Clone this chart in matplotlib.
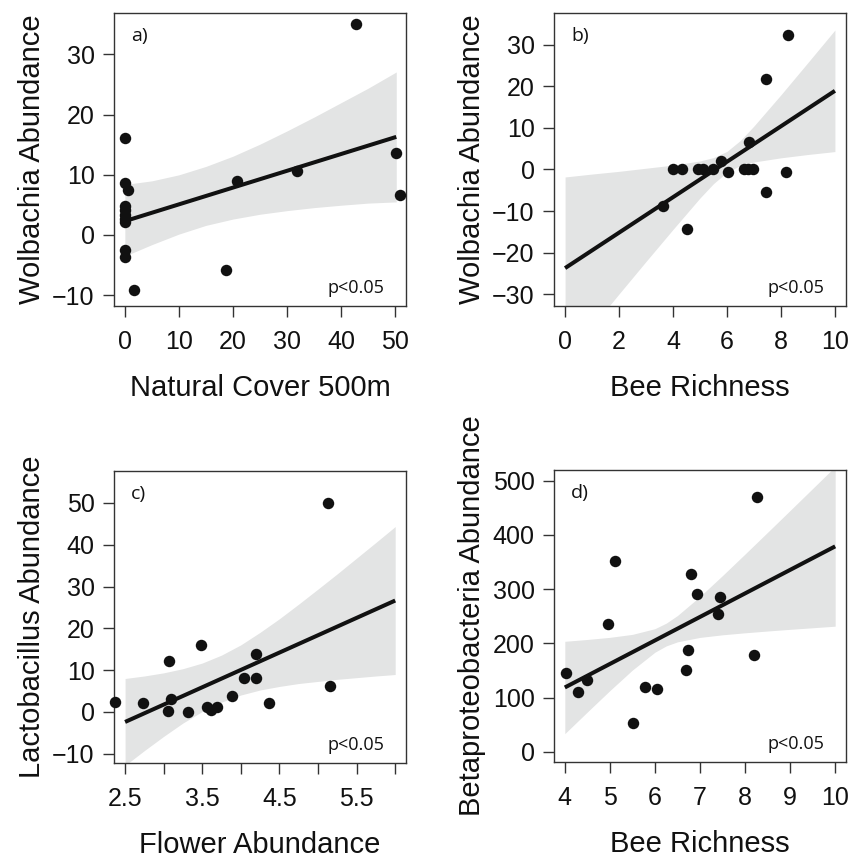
import matplotlib
matplotlib.use('Agg')
import matplotlib.pyplot as plt
import numpy as np

plt.rcParams['font.family'] = ['Liberation Sans', 'DejaVu Sans']

# a) Wolbachia abundance vs natural cover
cover_a = [42.8, 0.0, 0.0, 0.5, 0.0, 0.1, 0.0, 0.1, 0.0, 0.0, 0.0, 1.7, 18.8, 20.7, 31.8, 50.2, 50.9]
wolb_a = [35.0, 16.1, 8.6, 7.5, 4.9, 4.1, 3.3, 2.6, 2.2, -2.5, -3.7, -9.1, -5.9, 9.0, 10.6, 13.7, 6.6]
band_a_x = [0, 5, 10, 15, 20, 25, 30, 35, 40, 45, 50.2]
band_a_hi = [8.4, 9.0, 10.0, 11.4, 13.1, 15.1, 17.3, 19.6, 22.0, 24.4, 27.1]
band_a_lo = [-3.5, -1.6, 0.15, 1.6, 2.65, 3.45, 4.05, 4.55, 4.95, 5.3, 5.5]
fit_a = (2.3, 0.279)

# b) Wolbachia abundance vs bee richness
rich_b = [8.27, 7.43, 6.80, 5.78, 4.01, 4.32, 4.94, 5.12, 5.49, 6.05, 6.63, 6.79, 6.95, 8.17, 7.44, 3.62, 4.51]
wolb_b = [32.2, 21.8, 6.6, 2.0, 0.0, 0.0, 0.0, 0.0, 0.0, -0.6, 0.0, 0.0, 0.0, -0.6, -5.5, -8.8, -14.4]
band_b_x = [0, 1, 2, 3, 4, 5, 5.5, 6, 6.5, 7, 8, 9, 10]
band_b_hi = [-1.8, -1.1, -0.45, 0.3, 1.05, 2.05, 2.85, 4.35, 7.0, 10.45, 17.95, 25.7, 33.5]
band_b_lo = [-45.6, -37.8, -29.9, -22.1, -14.4, -6.85, -3.4, -0.65, 0.95, 1.8, 2.8, 3.6, 4.3]
fit_b = (-23.7, 4.26)

# c) Lactobacillus abundance vs flower abundance
flower_c = [5.13, 5.15, 2.37, 2.73, 3.07, 3.10, 3.05, 3.31, 3.48, 3.56, 3.61, 3.69, 3.88, 4.04, 4.20, 4.19, 4.37]
lacto_c = [50.1, 6.1, 2.4, 2.2, 12.1, 3.2, 0.2, 0.0, 16.1, 1.2, 0.4, 1.2, 3.8, 8.2, 8.2, 13.8, 2.2]
band_c_x = [2.5, 2.75, 3.0, 3.25, 3.5, 3.75, 4.0, 4.25, 4.5, 4.75, 5.0, 5.25, 5.5, 5.75, 6.0]
band_c_hi = [8.0, 8.6, 9.35, 10.35, 11.7, 13.6, 16.05, 19.05, 22.3, 25.8, 29.4, 33.05, 36.8, 40.55, 44.35]
band_c_lo = [-12.8, -9.25, -5.85, -2.65, 0.1, 2.35, 4.05, 5.25, 6.1, 6.8, 7.3, 7.8, 8.2, 8.6, 8.95]
fit_c = (-23.15, 8.3)

# d) Betaproteobacteria abundance vs bee richness
rich_d = [8.27, 5.12, 6.79, 6.93, 7.44, 7.41, 4.95, 6.73, 8.19, 6.68, 4.03, 4.50, 4.29, 5.78, 6.04, 5.52]
beta_d = [470.9, 351.8, 328.5, 291.7, 285.5, 254.1, 235.7, 188.6, 178.6, 150.5, 144.4, 132.6, 109.4, 119.7, 116.7, 53.4]
band_d_x = [4.0, 4.5, 5.0, 5.5, 6.0, 6.25, 6.5, 7.0, 7.5, 8.0, 8.5, 9.0, 9.5, 10.0]
band_d_hi = [203.8, 207.2, 211.1, 216.6, 227.1, 237.3, 251.4, 286.6, 325.2, 364.9, 405.0, 445.3, 485.8, 526.3]
band_d_lo = [33.4, 73.4, 112.9, 150.8, 183.7, 195.3, 202.8, 211.0, 215.8, 219.5, 222.8, 225.9, 228.8, 231.7]
fit_d = (-55.0, 43.4)


def panel(ax, x, y, bx, blo, bhi, fit, tag, xlab, ylab, xlim, ylim, xt, yt, xtl=None):
    ax.fill_between(bx, blo, bhi, color='#e3e4e4', lw=0, zorder=1)
    bx = np.array(bx)
    ax.plot(bx[[0, -1]], fit[0] + fit[1] * bx[[0, -1]], color='#111111', lw=2.9,
            solid_capstyle='butt', zorder=2)
    ax.scatter(x, y, s=68, color='#111111', lw=0, zorder=3, clip_on=False)
    ax.set_xlim(xlim)
    ax.set_ylim(ylim)
    ax.set_xticks(xt)
    if xtl is not None:
        ax.set_xticklabels(xtl)
    ax.set_yticks(yt)
    ax.tick_params(direction='out', length=8, width=1, color='#333333',
                   labelsize=18, labelcolor='#111111')
    ax.tick_params(axis='x', pad=9)
    ax.tick_params(axis='y', pad=6)
    for s in ax.spines.values():
        s.set_color('#333333')
        s.set_linewidth(1)
    ax.set_xlabel(xlab, fontsize=21, color='#111111')
    ax.set_ylabel(ylab, fontsize=21, color='#111111')
    ax.xaxis.set_label_coords(0.5, -0.232)
    ax.yaxis.set_label_coords(-0.232, 0.5)
    ax.text(0.058, 0.952, tag, transform=ax.transAxes, ha='left', va='top',
            fontsize=14, family=['Open Sans', 'DejaVu Sans'], color='#111111')
    ax.text(0.927, 0.044, 'p<0.05', transform=ax.transAxes, ha='right', va='baseline',
            fontsize=13, family=['Open Sans', 'DejaVu Sans'], color='#111111')


fig = plt.figure(figsize=(8.6, 8.6), dpi=100)
ax_a = fig.add_axes([0.1326, 0.6442, 0.3395, 0.3407])
ax_b = fig.add_axes([0.6442, 0.6442, 0.3395, 0.3407])
ax_c = fig.add_axes([0.1326, 0.1124, 0.3395, 0.3402])
ax_d = fig.add_axes([0.6442, 0.1136, 0.3395, 0.3403])

panel(ax_a, cover_a, wolb_a, band_a_x, band_a_lo, band_a_hi, fit_a, 'a)',
      'Natural Cover 500m', 'Wolbachia Abundance', (-2, 52), (-11.8, 36.9),
      [0, 10, 20, 30, 40, 50], [-10, 0, 10, 20, 30])
panel(ax_b, rich_b, wolb_b, band_b_x, band_b_lo, band_b_hi, fit_b, 'b)',
      'Bee Richness', 'Wolbachia Abundance', (-0.41, 10.41), (-32.8, 37.6),
      [0, 2, 4, 6, 8, 10], [-30, -20, -10, 0, 10, 20, 30])
panel(ax_c, flower_c, lacto_c, band_c_x, band_c_lo, band_c_hi, fit_c, 'c)',
      'Flower Abundance', 'Lactobacillus Abundance', (2.357, 6.14), (-12.3, 57.7),
      [2.5, 3.0, 3.5, 4.0, 4.5, 5.0, 5.5, 6.0], [-10, 0, 10, 20, 30, 40, 50],
      ['2.5', '', '3.5', '', '4.5', '', '5.5', ''])
panel(ax_d, rich_d, beta_d, band_d_x, band_d_lo, band_d_hi, fit_d, 'd)',
      'Bee Richness', 'Betaproteobacteria Abundance', (3.76, 10.24), (-19.5, 520.6),
      [4, 5, 6, 7, 8, 9, 10], [0, 100, 200, 300, 400, 500])

fig.savefig('out.png', dpi=100)
